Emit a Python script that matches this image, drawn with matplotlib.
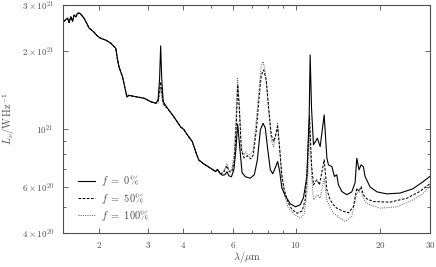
import numpy as np
import matplotlib
matplotlib.use("Agg")
import matplotlib.pyplot as plt
from matplotlib.ticker import FixedLocator, NullFormatter

# gemeinsamer Teil (alle Kurven identisch), lambda in um, L in 1e20 W/Hz
lam_nir = [1.50, 1.55, 1.571, 1.593, 1.615, 1.636, 1.66, 1.682, 1.714, 1.738,
           1.775, 1.815, 1.849, 1.886, 1.926, 1.953, 1.99, 2.034, 2.12, 2.21,
           2.27, 2.30, 2.33, 2.36, 2.43, 2.46, 2.52, 2.56, 2.64, 2.74, 2.90,
           3.06, 3.19]
L_nir = [25.9, 26.7, 25.7, 27.05, 26.0, 27.45, 27.05, 27.9, 27.9, 27.45,
         26.7, 25.5, 24.5, 24.05, 23.6, 23.15, 22.7, 22.35, 22.0, 21.4,
         20.75, 20.46, 18.7, 17.4, 15.9, 15.0, 13.3, 13.5, 13.4, 13.3, 13.15,
         12.76, 12.58]

# f = 0 %
lam_f0 = [3.25, 3.29, 3.32, 3.35, 3.39, 3.43, 3.50, 3.70, 3.91, 4.01, 4.13,
          4.30, 4.42, 4.53, 4.72, 4.99, 5.20, 5.28, 5.39, 5.50, 5.61, 5.71,
          5.80, 5.92, 6.04, 6.14, 6.23, 6.35, 6.46, 6.64, 6.91, 7.14, 7.32,
          7.50, 7.67, 7.81, 7.97, 8.14, 8.30, 8.47, 8.64, 8.79, 8.94, 9.19,
          9.58, 10.0, 10.39, 10.67, 10.97, 11.18, 11.27, 11.40, 11.58, 11.96,
          12.23, 12.64, 12.92, 13.09, 13.46, 13.74, 14.01, 14.20, 14.60,
          15.21, 15.84, 16.27, 16.50, 16.81, 17.09, 17.41, 17.66, 18.39,
          19.47, 21.1, 23.5, 26.1, 28.3, 30.0]
L_f0 = [12.95, 15.5, 20.9, 15.5, 12.8, 12.5, 12.1, 11.15, 10.2, 9.98, 9.51,
        8.96, 8.2, 7.62, 7.36, 7.08, 6.87, 7.01, 6.77, 6.65, 6.68, 6.86,
        6.62, 6.56, 6.98, 8.33, 10.47, 8.33, 6.80, 6.56, 6.48, 6.68, 7.62,
        9.93, 10.54, 10.1, 8.33, 6.98, 6.74, 7.10, 7.51, 6.86, 5.95, 5.55,
        5.17, 5.03, 5.12, 5.45, 6.56, 11.15, 19.3, 12.0, 8.71, 9.23,
        8.57, 11.35, 7.76, 7.29, 7.18, 6.58, 6.68, 6.11, 5.76,
        5.60, 5.74, 6.22, 7.73, 6.98, 7.29, 7.18, 6.58, 6.00,
        5.74, 5.64, 5.68, 5.90, 6.27, 6.58]

# f = 50 %
lam_f50 = [3.25, 3.29, 3.32, 3.35, 3.39, 3.43, 3.50, 3.70, 3.91, 4.01, 4.13,
           4.30, 4.42, 4.53, 4.72, 4.99, 5.20, 5.28, 5.39, 5.46, 5.57, 5.71,
           5.82, 5.94, 6.07, 6.17, 6.23, 6.32, 6.42, 6.56, 6.75, 6.94, 7.08,
           7.26, 7.44, 7.56, 7.71, 7.87, 8.04, 8.20, 8.36, 8.51, 8.64, 8.79,
           8.94, 9.12, 9.42, 9.73, 10.14, 10.56, 10.82, 11.00, 11.21, 11.40,
           11.58, 11.91, 12.16, 12.64, 12.92, 13.27, 13.63, 14.01, 14.79,
           15.41, 16.05, 16.50, 16.81, 17.09, 17.41, 17.90, 18.89, 21.6,
           24.9, 27.6, 30.0]
L_f50 = [12.76, 14.2, 15.2, 13.9, 12.6, 12.34, 12.07, 11.15, 10.2, 9.98, 9.51,
         8.96, 8.2, 7.62, 7.36, 7.08, 6.87, 7.01, 6.77, 6.74, 6.86, 7.23,
         6.86, 6.86, 7.62, 10.85, 14.8, 11.86, 8.33, 7.76, 7.90, 7.69, 7.97,
         9.93, 13.5, 16.15, 16.9, 15.47, 11.86, 9.51, 8.96, 9.51, 10.23, 8.33,
         6.68, 5.85, 5.21, 4.90, 4.75, 4.85, 5.35, 6.98, 11.25, 7.29,
         6.11, 6.39, 6.11, 7.62, 5.85, 5.35, 5.12, 4.97, 4.83,
         4.77, 5.04, 5.93, 5.76, 6.02, 5.60, 5.40, 5.27, 5.24,
         5.43, 5.76, 6.17]

# f = 100 %
lam_f100 = [3.25, 3.29, 3.32, 3.35, 3.39, 3.43, 3.50, 3.70, 3.91, 4.01, 4.13,
            4.30, 4.42, 4.53, 4.72, 4.99, 5.20, 5.28, 5.39, 5.46, 5.57, 5.71,
            5.82, 5.94, 6.07, 6.17, 6.23, 6.32, 6.42, 6.56, 6.67, 6.77, 6.94,
            7.08, 7.26, 7.44, 7.56, 7.67, 7.81, 8.00, 8.20, 8.36, 8.51, 8.64,
            8.79, 8.94, 9.12, 9.42, 9.82, 10.39, 10.73, 10.96, 11.14, 11.21,
            11.40, 11.58, 11.96, 12.23, 12.64, 12.92, 13.27, 13.63, 14.40,
            15.0, 15.84, 16.50, 17.09, 17.66, 18.39, 20.0, 22.9, 26.1, 28.3,
            30.0]
L_f100 = [12.6, 13.5, 14.4, 13.4, 12.4, 12.2, 12.05, 11.15, 10.2, 9.98, 9.51,
          8.96, 8.2, 7.62, 7.36, 7.08, 6.87, 7.01, 6.77, 6.77, 6.92, 7.36,
          6.92, 6.98, 8.33, 11.86, 15.7, 12.4, 8.47, 7.97, 8.18, 7.90, 8.04,
          8.33, 10.85, 14.8, 17.5, 18.2, 16.6, 12.4, 9.10, 8.55, 9.51, 10.54,
          8.33, 6.50, 5.60, 4.99, 4.73, 4.55, 4.73, 5.60, 7.62, 10.1,
          6.68, 5.35, 5.60, 5.43, 6.48, 5.35, 4.99, 4.76, 4.55,
          4.42, 4.62, 5.68, 5.76, 5.27, 5.12, 4.97, 5.03, 5.35, 5.64,
          6.05]

plt.rcParams['font.family'] = 'serif'
plt.rcParams['font.serif'] = ['cmr10']
plt.rcParams['mathtext.fontset'] = 'cm'
plt.rcParams['font.size'] = 7.5

grau = '0.3'

fig = plt.figure(figsize=(4.36, 2.67), dpi=100)
ax = fig.add_subplot(111)
fig.subplots_adjust(left=0.1456, right=0.986, top=0.981, bottom=0.1285)

def kurve(lam, L):
    x = np.array(lam_nir + lam)
    y = np.array(L_nir + L) * 1e20
    return x, y

x, y = kurve(lam_f100, L_f100)
ax.plot(x, y, color='0.35', lw=0.7, ls=(0, (1, 1.3)), label=r'$f\ =\ 100\%$')
x, y = kurve(lam_f50, L_f50)
ax.plot(x, y, color='black', lw=0.75, ls=(0, (2.5, 1.5)), label=r'$f\ =\ 50\%$')
x, y = kurve(lam_f0, L_f0)
ax.plot(x, y, color='black', lw=0.8, ls='-', label=r'$f\ =\ 0\%$')

ax.set_xscale('log')
ax.set_yscale('log')
ax.set_xlim(1.5, 30)
ax.set_ylim(4e20, 3e21)

xt = [2, 3, 4, 6, 10, 20, 30]
ax.xaxis.set_major_locator(FixedLocator(xt))
ax.xaxis.set_minor_locator(FixedLocator([5, 7, 8, 9]))
ax.set_xticklabels([r'$%d$' % v for v in xt])
ax.xaxis.set_minor_formatter(NullFormatter())

yt = [4e20, 6e20, 1e21, 2e21, 3e21]
ylab = [r'$4\times10^{20}$', r'$6\times10^{20}$', r'$10^{21}$',
        r'$2\times10^{21}$', r'$3\times10^{21}$']
ax.yaxis.set_major_locator(FixedLocator(yt))
ax.yaxis.set_minor_locator(FixedLocator([5e20, 7e20, 8e20, 9e20]))
ax.set_yticklabels(ylab)
ax.yaxis.set_minor_formatter(NullFormatter())

ax.tick_params(which='both', direction='in', top=True, right=True,
               color=grau, labelcolor=grau, width=0.6, labelsize=6.5)
ax.tick_params(which='major', length=3.5)
ax.tick_params(axis='y', which='major', pad=7)
ax.tick_params(axis='x', which='major', pad=5)
ax.tick_params(which='minor', length=2.5)
for s in ax.spines.values():
    s.set_color(grau)
    s.set_linewidth(0.8)

ax.set_xlabel(r'$\lambda/\mu\mathrm{m}$', color=grau)
ax.set_ylabel(r'$L_\nu/\mathrm{W\,Hz^{-1}}$', color=grau)
ax.xaxis.set_label_coords(0.5, -0.07)
ax.yaxis.set_label_coords(-0.128, 0.5)

h, l = ax.get_legend_handles_labels()
leg = ax.legend(h[::-1], l[::-1], loc='upper left', bbox_to_anchor=(0.035, 0.27),
                frameon=False, handlelength=1.6, handletextpad=0.6,
                labelspacing=0.22, borderaxespad=0, borderpad=0.2)
for t in leg.get_texts():
    t.set_color(grau)

fig.savefig('out.png', dpi=100)
